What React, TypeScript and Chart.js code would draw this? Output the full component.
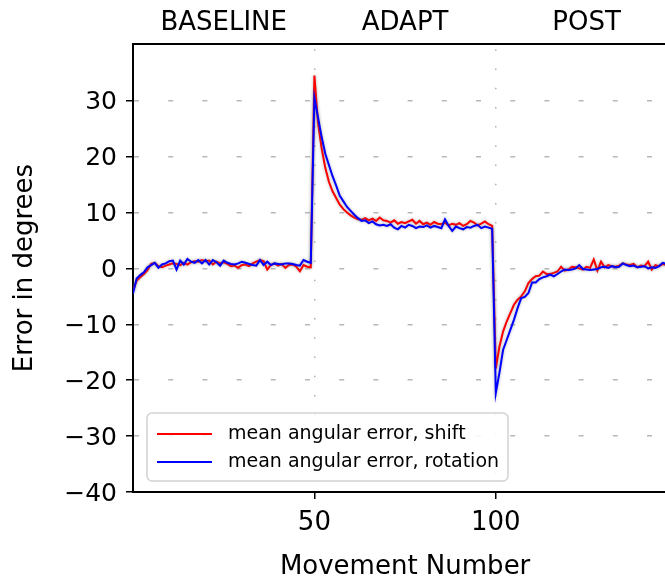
import React, { useEffect, useRef } from "react";
import { Chart, registerables } from "chart.js";

Chart.register(...registerables);

const phaseLabels = ["BASELINE", "ADAPT", "POST"];
const phaseCenters = [25, 75, 125];
const xTicks = [50, 100];
const yTicks = [-40, -30, -20, -10, 0, 10, 20, 30];
const seriesLabels = ["mean angular error, shift", "mean angular error, rotation"];
const xAxisTitle = "Movement Number";
const yAxisTitle = "Error in degrees";

// shift (red) — movements 0..149
const shiftBaseline = [
  -4, -2.2, -1.6, -1.0, -0.3, 0.8, 1.0, 0.4, 0.2, 0.5,
  0.7, 0.9, 0.8, 0.6, 1.0, 0.7, 1.1, 1.3, 1.2, 1.5,
  1.3, 1.4, 0.7, 1.2, 0.9, 1.1, 0.8, 0.4, 0.5, 0.1,
  0.6, 0.7, 0.4, 0.9, 1.2, 1.5, 1.3, -0.2, 0.6, 0.9,
  0.5, 0.8, 0.1, 0.6, 0.7, 0.3, -0.5, 0.6, 0.3, 0.2,
];
const shiftAdapt = [
  34.5, 26, 21.5, 18, 15.5, 13.8, 12.6, 11.4, 10.6, 10,
  9.5, 9.1, 8.8, 8.7, 9.0, 8.6, 8.9, 8.5, 9.1, 8.6,
  8.5, 8.2, 8.6, 8.0, 8.3, 8.1, 8.4, 8.7, 8.0, 8.5,
  7.9, 8.2, 7.8, 8.3, 8.0, 7.9, 8.2, 7.7, 8.0, 7.8,
  8.1, 7.6, 7.9, 8.5, 8.2, 7.7, 8.0, 8.4, 7.9, 7.6,
];
const shiftPost = [
  -17.9, -14, -11.3, -9.5, -8.0, -6.5, -5.6, -5.0, -4.1, -2.6,
  -1.9, -1.4, -1.3, -0.55, -1.0, -1.0, -0.8, -0.55, 0.3, -0.4,
  -0.2, 0.3, 0.2, 0.0, -0.2, 0.3, 0.1, 1.6, -0.4, 1.2,
  0.2, 0.6, 0.4, 0.3, 0.5, 0.9, 0.7, 0.6, 0.8, 0.2,
  0.5, 0.4, 1.2, -0.2, 0.6, 0.4, 0.8, 0.6, 0.5, 0.7,
];

// rotation (blue)
const rotationBaseline = [
  -4.5, -1.8, -1.2, -0.7, 0.2, 0.6, 1.0, 0.1, 0.7, 0.9,
  1.3, 1.4, -0.2, 1.4, 0.7, 1.7, 1.2, 1.0, 1.5, 0.9,
  1.5, 0.7, 1.5, 1.1, 0.5, 1.4, 1.0, 0.8, 0.7, 0.9,
  1.2, 1.0, 0.8, 0.6, 0.5, 1.5, 0.6, 1.2, 0.6, 0.9,
  0.8, 0.7, 0.9, 0.9, 0.8, 0.6, 0.5, 1.5, 1.2, 1.0,
];
const rotationAdapt = [
  30.5, 27, 23.5, 20.5, 18.5, 16.5, 14.8, 13, 12, 11,
  10.3, 9.6, 9.0, 8.5, 8.6, 8.1, 8.4, 7.9, 7.7, 7.8,
  7.6, 7.9, 7.3, 7.0, 7.6, 7.3, 7.8, 7.6, 7.2, 7.5,
  7.4, 7.7, 7.3, 7.6, 7.4, 7.2, 8.8, 7.6, 6.7, 7.5,
  7.2, 7.0, 7.4, 7.3, 7.6, 7.8, 7.2, 7.5, 7.3, 7.1,
];
const rotationPost = [
  -22.3, -18.7, -14.6, -12.8, -11.0, -9.2, -7.1, -5.3, -5.1, -4.4,
  -2.5, -2.5, -1.9, -1.6, -1.4, -1.1, -1.4, -1.0, -0.55, -0.2,
  -0.3, -0.2, 0.0, 0.6, -0.1, -0.2, -0.3, -0.2, -0.1, 0.2,
  0.3, 0.1, 0.4, 0.2, 0.3, 0.9, 0.6, 0.4, 0.5, 0.2,
  0.3, 0.4, 0.0, 0.2, 0.1, 0.4, 1.0, 0.8, 0.7, 0.9,
];

const FONT = "'DejaVu Sans', sans-serif";

export default function App() {
  const ref = useRef<HTMLCanvasElement | null>(null);

  useEffect(() => {
    if (!ref.current) return;
    const shift = [...shiftBaseline, ...shiftAdapt, ...shiftPost];
    const rotation = [...rotationBaseline, ...rotationAdapt, ...rotationPost];
    const toPts = (arr: number[]) => arr.map((y, i) => ({ x: i, y }));

    const decor = {
      id: "decor",
      beforeDatasetsDraw(chart: any) {
        const ctx = chart.ctx;
        ctx.save();
        ctx.shadowColor = "rgba(110,110,110,0.55)";
        ctx.shadowBlur = 3;
      },
      afterDatasetsDraw(chart: any) {
        chart.ctx.restore();
      },
      afterDraw(chart: any) {
        const ctx = chart.ctx;
        const area = chart.chartArea;
        const xs = chart.scales.x;
        ctx.save();
        // top spine
        ctx.strokeStyle = "#000";
        ctx.lineWidth = 2;
        ctx.beginPath();
        ctx.moveTo(area.left - 1, area.top);
        ctx.lineTo(area.right + 1, area.top);
        ctx.stroke();
        // phase labels
        ctx.fillStyle = "#000";
        ctx.font = `26px ${FONT}`;
        ctx.textAlign = "center";
        ctx.textBaseline = "alphabetic";
        phaseLabels.forEach((lab, i) => {
          ctx.fillText(lab, xs.getPixelForValue(phaseCenters[i]), area.top - 14);
        });
        // legend
        const bx = area.left + 14;
        const by = area.bottom - 79;
        const bw = 361;
        const bh = 68;
        ctx.beginPath();
        ctx.roundRect(bx, by, bw, bh, 5);
        ctx.fillStyle = "rgba(255,255,255,0.85)";
        ctx.fill();
        ctx.strokeStyle = "#d2d2d2";
        ctx.lineWidth = 1.5;
        ctx.stroke();
        ctx.font = `19px ${FONT}`;
        ctx.textAlign = "left";
        ctx.textBaseline = "middle";
        chart.data.datasets.forEach((ds: any, i: number) => {
          const ly = by + 21 + i * 28;
          ctx.strokeStyle = ds.borderColor;
          ctx.lineWidth = 2;
          ctx.beginPath();
          ctx.moveTo(bx + 10, ly);
          ctx.lineTo(bx + 65, ly);
          ctx.stroke();
          ctx.fillStyle = "#000";
          ctx.fillText(ds.label, bx + 81, ly);
        });
        ctx.restore();
      },
    };

    const chart = new Chart(ref.current, {
      type: "line",
      data: {
        datasets: [
          {
            label: seriesLabels[0],
            data: toPts(shift),
            borderColor: "#ff0000",
            backgroundColor: "#ff0000",
            borderWidth: 2,
            pointRadius: 0,
            tension: 0,
            order: 1,
          },
          {
            label: seriesLabels[1],
            data: toPts(rotation),
            borderColor: "#0000ff",
            backgroundColor: "#0000ff",
            borderWidth: 2,
            pointRadius: 0,
            tension: 0,
            order: 0,
          },
        ],
      },
      options: {
        responsive: false,
        maintainAspectRatio: false,
        devicePixelRatio: 1,
        animation: false,
        layout: { padding: { top: 44, right: 2.8, left: 0, bottom: 0 } },
        plugins: { legend: { display: false }, tooltip: { enabled: false } },
        scales: {
          x: {
            type: "linear",
            min: 0,
            max: 150,
            afterBuildTicks: (s: any) => {
              s.ticks = xTicks.map((v) => ({ value: v }));
            },
            afterFit: (s: any) => {
              s.height = 87;
            },
            ticks: {
              font: { family: FONT, size: 26 },
              color: "#000",
              padding: 9,
              maxRotation: 0,
              autoSkip: false,
            },
            grid: {
              color: "#b0b0b0",
              lineWidth: 1.5,
              tickLength: 7,
              tickColor: "#000",
              tickWidth: 1.5,
            },
            border: { display: true, color: "#000", width: 2, dash: [1.5, 17.7], dashOffset: 13.9 },
            title: {
              display: true,
              text: xAxisTitle,
              color: "#000",
              font: { family: FONT, size: 26, lineHeight: 0.87 },
              padding: 0,
            },
          },
          y: {
            type: "linear",
            min: -40,
            max: 40.15,
            afterBuildTicks: (s: any) => {
              s.ticks = yTicks.map((v) => ({ value: v }));
            },
            afterFit: (s: any) => {
              s.width = 133;
            },
            ticks: {
              font: { family: FONT, size: 25 },
              color: "#000",
              padding: 9,
              labelOffset: 2,
              autoSkip: false,
              callback: (v: any) => String(v).replace("-", "\u2212"),
            },
            grid: {
              color: (c: any) => (c.tick && c.tick.value === -40 ? "rgba(0,0,0,0)" : "#b8b8b8"),
              lineWidth: 1.5,
              tickLength: 7,
              tickColor: "#000",
              tickWidth: 1.5,
            },
            border: { display: true, color: "#000", width: 2, dash: [5, 29.2], dashOffset: 0 },
            title: {
              display: true,
              text: yAxisTitle,
              color: "#000",
              font: { family: FONT, size: 26, lineHeight: 1.2 },
              padding: { top: 9.4, bottom: 0 },
            },
          },
        },
      },
      plugins: [decor],
    } as any);

    return () => chart.destroy();
  }, []);

  return (
    <div
      style={{
        position: "fixed",
        left: 0,
        top: 0,
        width: 665,
        height: 579,
        overflow: "hidden",
        background: "#fff",
      }}
    >
      <canvas ref={ref} width={680} height={579} style={{ display: "block", width: 680, height: 579 }} />
    </div>
  );
}
